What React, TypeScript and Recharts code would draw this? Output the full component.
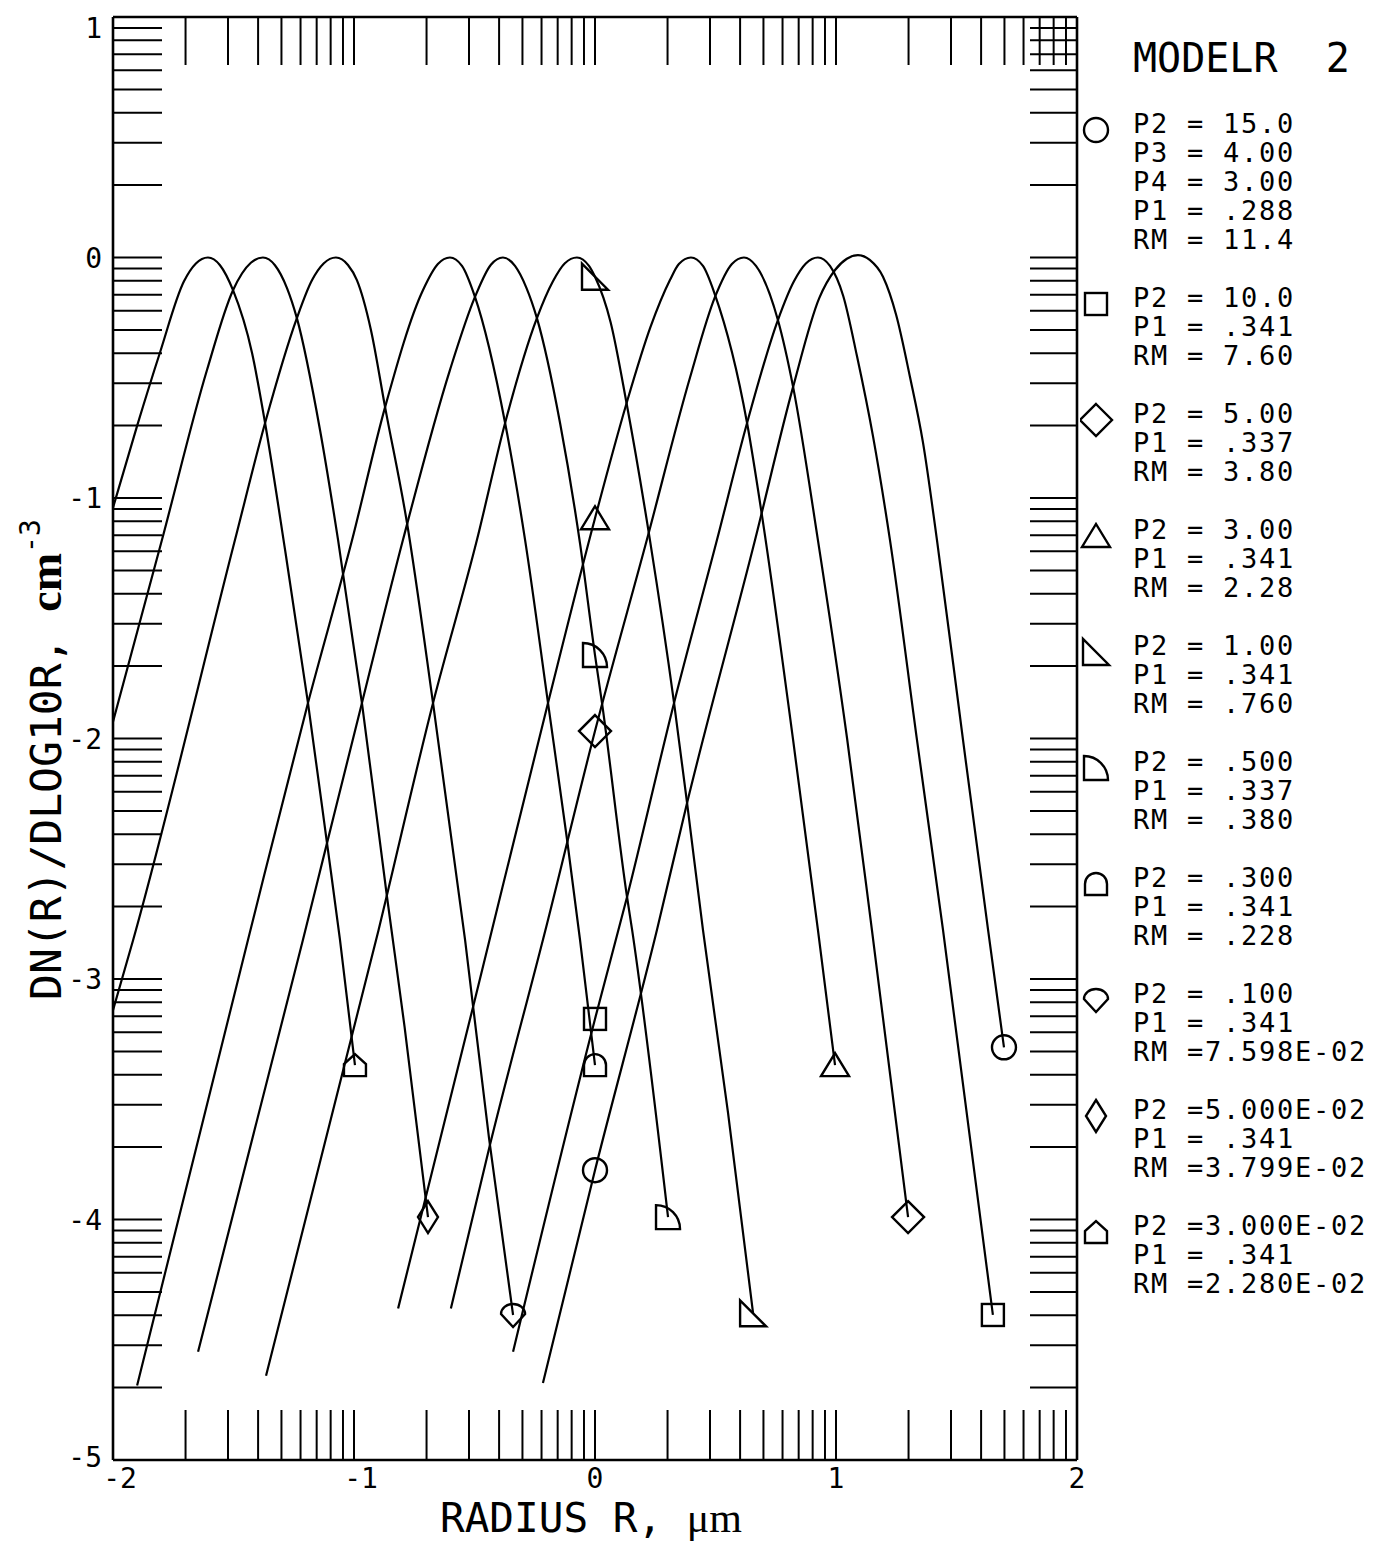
import React from "react";
import { ComposedChart, Line, Scatter, XAxis, YAxis, Legend } from "recharts";

// size distributions, x = log10 R (um), y = log10 dN/dlog10R
const curveA = [
  { x: -2.0, y: -1.04 }, { x: -1.9, y: -0.7 }, { x: -1.805, y: -0.395 }, { x: -1.706, y: -0.1 },
  { x: -1.656, y: -0.025 }, { x: -1.606, y: 0 }, { x: -1.556, y: -0.032 }, { x: -1.502, y: -0.136 },
  { x: -1.423, y: -0.397 }, { x: -1.369, y: -0.688 }, { x: -1.286, y: -1.216 }, { x: -1.191, y: -1.852 },
  { x: -1.112, y: -2.435 }, { x: -1.058, y: -2.838 }, { x: -0.996, y: -3.358 },
];
const curveB = [
  { x: -2.0, y: -1.93 }, { x: -1.797, y: -1.175 }, { x: -1.61, y: -0.468 }, { x: -1.502, y: -0.136 },
  { x: -1.428, y: -0.022 }, { x: -1.378, y: 0 }, { x: -1.328, y: -0.032 }, { x: -1.278, y: -0.127 },
  { x: -1.237, y: -0.252 }, { x: -1.141, y: -0.717 }, { x: -1.066, y: -1.175 }, { x: -0.967, y: -1.853 },
  { x: -0.863, y: -2.659 }, { x: -0.79, y: -3.2 }, { x: -0.693, y: -3.99 },
];
const curveC = [
  { x: -2.0, y: -3.13 }, { x: -1.917, y: -2.84 }, { x: -1.494, y: -1.175 }, { x: -1.369, y: -0.688 },
  { x: -1.237, y: -0.252 }, { x: -1.175, y: -0.096 }, { x: -1.125, y: -0.024 }, { x: -1.075, y: 0 },
  { x: -1.025, y: -0.031 }, { x: -0.988, y: -0.094 }, { x: -0.93, y: -0.3 }, { x: -0.871, y: -0.622 },
  { x: -0.78, y: -1.104 }, { x: -0.672, y: -1.853 }, { x: -0.539, y: -2.838 }, { x: -0.44, y: -3.66 },
  { x: -0.34, y: -4.397 },
];
const curveD = [
  { x: -1.9, y: -4.69 }, { x: -1.44, y: -2.838 }, { x: -1.191, y: -1.852 }, { x: -1.008, y: -1.175 },
  { x: -0.871, y: -0.622 }, { x: -0.714, y: -0.136 }, { x: -0.652, y: -0.027 }, { x: -0.602, y: 0 },
  { x: -0.552, y: -0.035 }, { x: -0.498, y: -0.164 }, { x: -0.373, y: -0.688 }, { x: -0.29, y: -1.175 },
  { x: -0.195, y: -1.852 }, { x: -0.116, y: -2.42 }, { x: -0.062, y: -2.838 }, { x: 0, y: -3.358 },
];
const curveE = [
  { x: -1.647, y: -4.55 }, { x: -1.212, y: -2.838 }, { x: -1.112, y: -2.435 }, { x: -0.967, y: -1.852 },
  { x: -0.797, y: -1.175 }, { x: -0.602, y: -0.468 }, { x: -0.498, y: -0.164 }, { x: -0.432, y: -0.03 },
  { x: -0.382, y: 0 }, { x: -0.332, y: -0.035 }, { x: -0.285, y: -0.125 }, { x: -0.241, y: -0.252 },
  { x: -0.145, y: -0.688 }, { x: -0.062, y: -1.19 }, { x: 0, y: -1.653 }, { x: 0.029, y: -1.852 },
  { x: 0.133, y: -2.659 }, { x: 0.154, y: -2.796 }, { x: 0.303, y: -3.99 },
];
const curveF = [
  { x: -1.365, y: -4.65 }, { x: -0.898, y: -2.796 }, { x: -0.672, y: -1.852 }, { x: -0.49, y: -1.175 },
  { x: -0.373, y: -0.688 }, { x: -0.241, y: -0.252 }, { x: -0.175, y: -0.1 }, { x: -0.125, y: -0.024 },
  { x: -0.075, y: 0 }, { x: -0.025, y: -0.035 }, { x: 0, y: -0.08 }, { x: 0.065, y: -0.27 },
  { x: 0.131, y: -0.606 }, { x: 0.228, y: -1.175 }, { x: 0.328, y: -1.852 }, { x: 0.382, y: -2.268 },
  { x: 0.448, y: -2.796 }, { x: 0.552, y: -3.557 }, { x: 0.656, y: -4.39 },
];
const curveG = [
  { x: -0.817, y: -4.37 }, { x: -0.506, y: -3.116 }, { x: -0.195, y: -1.852 }, { x: 0, y: -1.084 },
  { x: 0.131, y: -0.606 }, { x: 0.23, y: -0.29 }, { x: 0.311, y: -0.094 }, { x: 0.348, y: -0.027 },
  { x: 0.398, y: 0 }, { x: 0.448, y: -0.035 }, { x: 0.498, y: -0.155 }, { x: 0.631, y: -0.688 },
  { x: 0.697, y: -1.1 }, { x: 0.822, y: -2.006 }, { x: 0.925, y: -2.796 }, { x: 0.996, y: -3.358 },
];
const curveH = [
  { x: -0.598, y: -4.37 }, { x: -0.436, y: -3.69 }, { x: -0.199, y: -2.77 }, { x: 0, y: -1.969 },
  { x: 0.215, y: -1.175 }, { x: 0.394, y: -0.5 }, { x: 0.498, y: -0.164 }, { x: 0.568, y: -0.027 },
  { x: 0.618, y: 0 }, { x: 0.668, y: -0.035 }, { x: 0.759, y: -0.26 }, { x: 0.822, y: -0.538 },
  { x: 0.925, y: -1.175 }, { x: 1.046, y: -2.0 }, { x: 1.149, y: -2.796 }, { x: 1.299, y: -3.99 },
];
const curveI = [
  { x: -0.34, y: -4.55 }, { x: 0, y: -3.166 }, { x: 0.133, y: -2.659 }, { x: 0.328, y: -1.852 },
  { x: 0.506, y: -1.175 }, { x: 0.631, y: -0.688 }, { x: 0.759, y: -0.26 }, { x: 0.825, y: -0.1 },
  { x: 0.875, y: -0.025 }, { x: 0.925, y: 0 }, { x: 0.975, y: -0.035 }, { x: 1.03, y: -0.16 },
  { x: 1.087, y: -0.41 }, { x: 1.154, y: -0.746 }, { x: 1.224, y: -1.175 }, { x: 1.336, y: -2.006 },
  { x: 1.444, y: -2.796 }, { x: 1.651, y: -4.397 },
];
const curveJ = [
  { x: -0.216, y: -4.68 }, { x: 0, y: -3.795 }, { x: 0.257, y: -2.796 }, { x: 0.382, y: -2.268 },
  { x: 0.664, y: -1.175 }, { x: 0.822, y: -0.538 }, { x: 0.93, y: -0.17 }, { x: 0.996, y: -0.052 },
  { x: 1.045, y: -0.005 }, { x: 1.091, y: 0.01 }, { x: 1.14, y: -0.01 }, { x: 1.195, y: -0.08 },
  { x: 1.25, y: -0.24 }, { x: 1.307, y: -0.497 }, { x: 1.361, y: -0.77 }, { x: 1.419, y: -1.175 },
  { x: 1.527, y: -2.006 }, { x: 1.631, y: -2.796 }, { x: 1.697, y: -3.284 },
];

// plotted symbols (at R = 1 um and at the end of each curve)
const markJ = [{ x: 0, y: -3.795 }, { x: 1.697, y: -3.284 }];
const markI = [{ x: 0, y: -3.166 }, { x: 1.651, y: -4.397 }];
const markH = [{ x: 0, y: -1.969 }, { x: 1.299, y: -3.99 }];
const markG = [{ x: 0, y: -1.084 }, { x: 0.996, y: -3.358 }];
const markF = [{ x: 0, y: -0.08 }, { x: 0.656, y: -4.39 }];
const markE = [{ x: 0, y: -1.653 }, { x: 0.303, y: -3.99 }];
const markD = [{ x: 0, y: -3.358 }];
const markC = [{ x: -0.34, y: -4.397 }];
const markB = [{ x: -0.693, y: -3.99 }];
const markA = [{ x: -0.996, y: -3.358 }];

const yLabelValues = [1, 0, -1, -2, -3, -4, -5];
const xDecades = [-2, -1, 0, 1];
const yDecades = [-5, -4, -3, -2, -1, 0];
const logSteps = [2, 3, 4, 5, 6, 7, 8, 9];
const xLogTicks = [...xDecades.flatMap((d) => logSteps.map((k) => d + Math.log10(k))), -1, 0, 1];
const yLogTicks = [...yDecades.flatMap((d) => logSteps.map((k) => d + Math.log10(k))), -4, -3, -2, -1, 0];
const xBottomTicks = [-2, ...xLogTicks, 2];

const legendTitle = "MODELR  2";
const legendLines = [
  ["P2 = 15.0", "P3 = 4.00", "P4 = 3.00", "P1 = .288", "RM = 11.4"],
  ["P2 = 10.0", "P1 = .341", "RM = 7.60"],
  ["P2 = 5.00", "P1 = .337", "RM = 3.80"],
  ["P2 = 3.00", "P1 = .341", "RM = 2.28"],
  ["P2 = 1.00", "P1 = .341", "RM = .760"],
  ["P2 = .500", "P1 = .337", "RM = .380"],
  ["P2 = .300", "P1 = .341", "RM = .228"],
  ["P2 = .100", "P1 = .341", "RM =7.598E-02"],
  ["P2 =5.000E-02", "P1 = .341", "RM =3.799E-02"],
  ["P2 =3.000E-02", "P1 = .341", "RM =2.280E-02"],
];

const shapes = ["circle", "square", "diamond", "triangle", "rtri", "quarter", "arch", "shield", "thin", "house"];
const curves = [curveJ, curveI, curveH, curveG, curveF, curveE, curveD, curveC, curveB, curveA];
const marks = [markJ, markI, markH, markG, markF, markE, markD, markC, markB, markA];

const MONO = "'DejaVu Sans Mono', monospace";

function marker(shape: string, cx: number, cy: number) {
  const p = { fill: "none", stroke: "#000", strokeWidth: 2.4 };
  switch (shape) {
    case "circle":
      return <circle cx={cx} cy={cy} r={12} {...p} />;
    case "square":
      return <rect x={cx - 11} y={cy - 11} width={22} height={22} {...p} />;
    case "diamond":
      return <path d={`M${cx},${cy - 16}L${cx + 16},${cy}L${cx},${cy + 16}L${cx - 16},${cy}Z`} {...p} />;
    case "triangle":
      return <path d={`M${cx - 14},${cy + 11}L${cx + 14},${cy + 11}L${cx},${cy - 12}Z`} {...p} />;
    case "rtri":
      return <path d={`M${cx - 13},${cy - 13}L${cx - 13},${cy + 13}L${cx + 13},${cy + 13}Z`} {...p} />;
    case "quarter":
      return <path d={`M${cx - 12},${cy - 12}L${cx - 12},${cy + 12}L${cx + 12},${cy + 12}A24,24 0 0 0 ${cx - 12},${cy - 12}Z`} {...p} />;
    case "arch":
      return <path d={`M${cx - 11},${cy + 11}L${cx - 11},${cy}A11,11 0 0 1 ${cx + 11},${cy}L${cx + 11},${cy + 11}Z`} {...p} />;
    case "shield":
      return <path d={`M${cx - 12},${cy - 1}A12,10 0 0 1 ${cx + 12},${cy - 1}L${cx},${cy + 12}Z`} {...p} />;
    case "thin":
      return <path d={`M${cx},${cy - 16}L${cx + 10},${cy}L${cx},${cy + 16}L${cx - 10},${cy}Z`} {...p} />;
    default:
      return <path d={`M${cx - 11},${cy + 11}L${cx - 11},${cy - 1}L${cx},${cy - 11}L${cx + 11},${cy - 1}L${cx + 11},${cy + 11}Z`} {...p} />;
  }
}

const EmptyTick = () => <g />;

// bottom axis: inward log tick marks, labels only on whole decades
const XTick = ({ x, y, payload }: any) => {
  const v = payload.value;
  const whole = Math.abs(v - Math.round(v)) < 1e-9;
  const edge = v === -2 || v === 2;
  return (
    <g>
      {!edge && <line x1={x} y1={y} x2={x} y2={y - 50} stroke="#000" strokeWidth={2} />}
      {whole && (
        <text x={v < 0 ? x + 7 : x} y={y + 28} textAnchor="middle" fontFamily={MONO} fontSize={28} fill="#000">
          {Math.round(v)}
        </text>
      )}
    </g>
  );
};

const YTickLabel = ({ x, y, payload }: any) => (
  <text x={x - 11} y={y + (payload.value === 1 ? 21 : payload.value === -5 ? 7 : 10)} textAnchor="end" fontFamily={MONO} fontSize={28} fill="#000">
    {payload.value}
  </text>
);

const XTitle = () => (
  <text x={432} y={1524} fill="#000" style={{ whiteSpace: "pre" }}>
    <tspan fontFamily={MONO} fontSize={41}>RADIUS R, </tspan>
    <tspan fontFamily="'Liberation Serif', serif" fontSize={42}>μm</tspan>
  </text>
);

const YTitle = () => (
  <text x={53} y={992} transform="rotate(-90, 53, 992)" fill="#000" style={{ whiteSpace: "pre" }}>
    <tspan fontFamily={MONO} fontSize={43}>DN(R)/DLOG10R, </tspan>
    <tspan fontFamily="'Liberation Serif', serif" fontWeight="bold" fontSize={46}>cm</tspan>
    <tspan fontFamily={MONO} fontSize={28} dy={-21}>-3</tspan>
  </text>
);

const rowStarts = legendLines.map((_, i) => legendLines.slice(0, i).reduce((s, g) => s + g.length + 1, 0));

function ModelLegend() {
  return (
    <svg width={298} height={1300}>
      <text x={53} y={64} fontFamily={MONO} fontSize={40} fill="#000" style={{ whiteSpace: "pre" }}>
        {legendTitle}
      </text>
      {legendLines.map((group, gi) => (
        <g key={gi}>
          {marker(shapes[gi], 16, 122 + 29 * rowStarts[gi])}
          {group.map((line, li) => (
            <text
              key={li}
              x={53}
              y={125 + 29 * (rowStarts[gi] + li)}
              fontFamily={MONO}
              fontSize={27}
              letterSpacing={1.75}
              fill="#000"
              style={{ whiteSpace: "pre" }}
            >
              {line}
            </text>
          ))}
        </g>
      ))}
    </svg>
  );
}

export default function App() {
  const frame = { stroke: "#000", strokeWidth: 2.6 };
  const tickStroke = { stroke: "#000", strokeWidth: 2 };
  return (
    <ComposedChart width={1370} height={1534} margin={{ top: 9, right: 301, bottom: 0, left: 0 }}>
      <XAxis
        xAxisId={0}
        type="number"
        dataKey="x"
        domain={[-2, 2]}
        ticks={xBottomTicks}
        interval={0}
        allowDataOverflow
        height={82}
        stroke="#000"
        axisLine={frame}
        tickLine={false}
        tickSize={0}
        tickMargin={0}
        tick={<XTick />}
        label={{ content: XTitle } as any}
      />
      <XAxis
        xAxisId="top"
        orientation="top"
        type="number"
        dataKey="x"
        domain={[-2, 2]}
        ticks={xLogTicks}
        interval={0}
        allowDataOverflow
        mirror
        stroke="#000"
        axisLine={frame}
        tickLine={tickStroke}
        tickSize={48}
        tick={EmptyTick}
      />
      <YAxis
        yAxisId={0}
        type="number"
        domain={[-5, 1]}
        ticks={yLabelValues}
        interval={0}
        allowDataOverflow
        width={105}
        axisLine={false}
        tickLine={false}
        tickSize={0}
        tickMargin={0}
        tick={<YTickLabel />}
        label={{ content: YTitle } as any}
      />
      <YAxis yAxisId="leftTicks" type="number" domain={[-5, 1]} ticks={yLogTicks} interval={0} allowDataOverflow
        mirror stroke="#000" axisLine={frame} tickLine={tickStroke} tickSize={49} tick={EmptyTick} />
      <YAxis yAxisId="rightTicks" orientation="right" type="number" domain={[-5, 1]} ticks={yLogTicks} interval={0} allowDataOverflow
        mirror stroke="#000" axisLine={frame} tickLine={tickStroke} tickSize={47} tick={EmptyTick} />

      {curves.map((c, i) => (
        <Line
          key={`curve-${i}`}
          data={c}
          dataKey="y"
          type="monotone"
          stroke="#000"
          strokeWidth={2.2}
          dot={false}
          activeDot={false}
          isAnimationActive={false}
        />
      ))}
      {marks.map((m, i) => (
        <Scatter
          key={`mark-${i}`}
          xAxisId="top"
          data={m}
          dataKey="y"
          shape={(p: any) => marker(shapes[i], p.cx, p.cy)}
          isAnimationActive={false}
        />
      ))}
      <Legend
        layout="horizontal"
        verticalAlign="middle"
        align="center"
        content={() => <ModelLegend />}
        wrapperStyle={{ position: "absolute", left: 1072, top: 0, width: 298, height: 1300 }}
      />
    </ComposedChart>
  );
}
